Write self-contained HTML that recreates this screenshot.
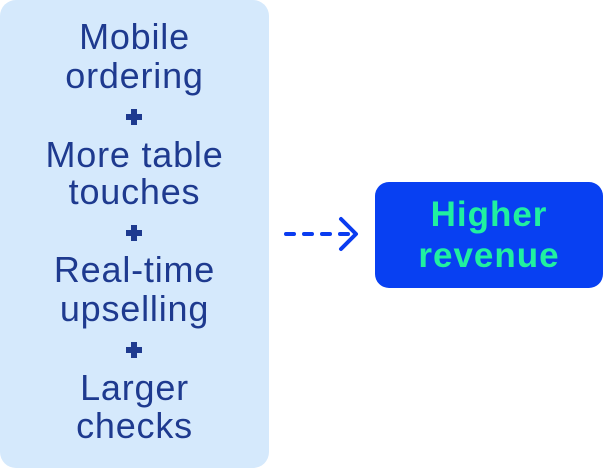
<!DOCTYPE html>
<html><head><style>
body{margin:0;width:603px;height:468px;background:#fff;position:relative;overflow:hidden;font-family:"Liberation Sans",sans-serif}
.l{position:absolute;left:0;width:269px;background:#d5e9fc;top:0;height:468px;border-radius:16px}
.t{position:absolute;left:0;width:269px;text-align:center;color:#1e3a8f;font-size:36px;letter-spacing:0.8px;line-height:40px;height:40px;white-space:nowrap}
.p{position:absolute;left:126px;width:16px;height:16px}
.p:before{content:"";position:absolute;left:5px;top:0;width:6px;height:16px;background:#1e3a8f}
.p:after{content:"";position:absolute;left:0;top:5px;width:16px;height:6px;background:#1e3a8f}
.r{position:absolute;left:375px;top:182px;width:228px;height:106px;background:#0840f2;border-radius:14px}
.g{position:absolute;left:375px;width:228px;text-align:center;color:#20f0a0;font-weight:bold;font-size:35px;letter-spacing:1px;line-height:40px}
</style></head><body>
<div class="l"></div>
<div class="t" style="top:17px">Mobile</div>
<div class="t" style="top:56px">ordering</div>
<div class="p" style="top:109px"></div>
<div class="t" style="top:135px">More table</div>
<div class="t" style="top:172px">touches</div>
<div class="p" style="top:225px"></div>
<div class="t" style="top:250px">Real-time</div>
<div class="t" style="top:289px">upselling</div>
<div class="p" style="top:342px"></div>
<div class="t" style="top:368px">Larger</div>
<div class="t" style="top:406px">checks</div>
<div class="r"></div>
<div class="g" style="top:195px">Higher</div>
<div class="g" style="top:236px">revenue</div>
<svg style="position:absolute;left:0;top:0" width="603" height="468">
<line x1="286" y1="234" x2="354" y2="234" stroke="#0a3cf0" stroke-width="4" stroke-linecap="round" stroke-dasharray="8,10"/>
<polyline points="341,219 356,234 341,249" fill="none" stroke="#0a3cf0" stroke-width="4" stroke-linecap="round" stroke-linejoin="round"/>
</svg>
</body></html>
